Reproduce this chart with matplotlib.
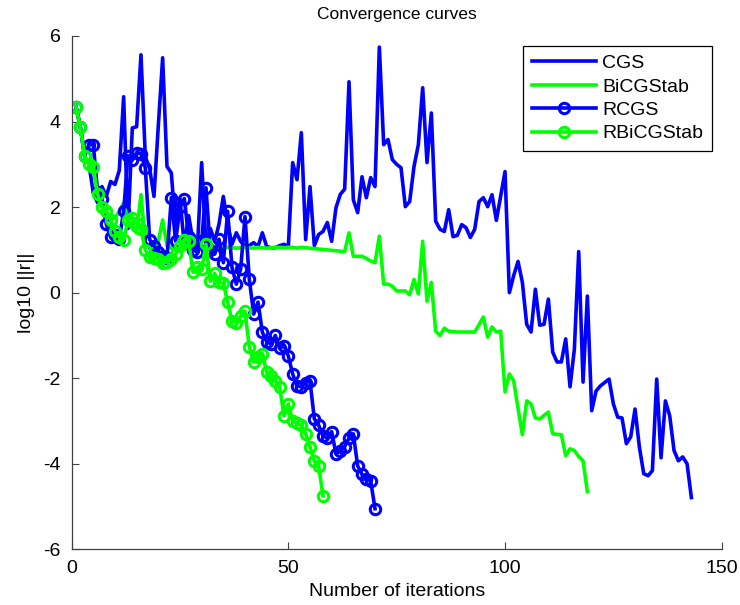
import numpy as np
import matplotlib
matplotlib.use("Agg")
import matplotlib.pyplot as plt

plt.rcParams['font.family'] = ['Liberation Sans', 'DejaVu Sans']
plt.rcParams['axes.unicode_minus'] = False

# log10 of residual norm per iteration
cgs = [4.35, 3.88, 3.18, 3.0, 2.33, 2.1, 2.48, 2.25, 2.6, 2.53,
       2.86, 4.58, 1.5, 3.85, 3.88, 5.56, 3.18, 2.9, 2.25, 3.9,
       5.49, 2.95, 2.8, 1.5, 2.2, 1.1, 1.8, 1.2, 1.0, 3.04,
       1.1, 1.5, 1.2, 1.6, 2.25, 1.6, 1.13, 1.4, 1.2, 1.08,
       1.1, 1.17, 1.08, 1.4, 1.08, 1.05, 1.05, 1.1, 1.13, 1.08,
       3.04, 2.64, 3.74, 1.24, 2.48, 1.1, 1.36, 1.43, 1.64, 1.2,
       1.99, 2.3, 2.42, 4.93, 2.17, 1.87, 2.71, 2.22, 2.69, 2.48,
       5.74, 3.46, 3.58, 3.11, 3.0, 2.92, 2.01, 2.13, 2.95, 3.46,
       4.79, 3.04, 4.2, 1.67, 1.48, 1.43, 1.94, 1.31, 1.34, 1.59,
       1.52, 1.29, 1.48, 2.13, 2.22, 2.01, 2.29, 1.69, 2.26, 2.83,
       0.0, 0.4, 0.73, 0.24, -0.74, -0.92, 0.08, -0.76, -0.74, -0.15,
       -1.39, -1.62, -1.62, -1.08, -2.2, -1.32, 0.96, -2.09, -0.08, -2.76,
       -2.3, -2.18, -2.1, -2.02, -2.6, -2.91, -2.93, -3.53, -3.37, -2.72,
       -3.61, -4.23, -4.28, -4.16, -2.02, -3.86, -2.53, -2.88, -3.69, -3.93,
       -3.84, -4.0, -4.79]

bicgstab = [4.35, 3.88, 3.18, 3.0, 2.9, 2.3, 2.0, 1.9, 1.7, 1.75,
            1.9, 2.1, 1.7, 1.5, 1.4, 2.29, 1.17, 1.05, 1.0, 1.2,
            1.7, 1.1, 1.04, 1.03, 1.05, 1.04, 1.02, 1.04, 1.05, 1.03,
            1.04, 1.05, 1.04, 1.03, 1.04, 1.06, 1.05, 1.04, 1.05, 1.06,
            1.05, 1.04, 1.06, 1.05, 1.04, 1.05, 1.06, 1.06, 1.05, 1.06,
            1.06, 1.04, 1.06, 1.05, 1.04, 1.03, 1.02, 1.01, 1.0, 0.99,
            0.98, 0.97, 0.96, 1.4, 0.85, 0.85, 0.85, 0.8, 0.74, 0.7,
            1.32, 0.2, 0.2, 0.15, 0.04, 0.04, 0.04, -0.05, 0.31, -0.03,
            1.2, -0.2, 0.24, -0.9, -1.0, -0.83, -0.9, -0.91, -0.92, -0.92,
            -0.92, -0.92, -0.92, -0.75, -0.57, -1.04, -0.8, -0.92, -0.9, -2.32,
            -1.9, -2.06, -2.7, -3.32, -2.53, -2.6, -2.93, -2.95, -2.87, -2.79,
            -3.3, -3.31, -3.32, -3.81, -3.65, -3.69, -3.83, -3.93, -4.65]

rcgs = [4.35, 3.88, 3.2, 3.46, 3.46, 2.35, 2.2, 1.6, 1.3, 1.35,
        1.25, 1.9, 3.2, 3.1, 3.27, 3.25, 2.92, 1.24, 1.1, 0.95,
        0.85, 0.8, 2.22, 1.2, 2.0, 2.2, 1.3, 1.0, 0.95, 1.2,
        2.45, 1.0, 0.9, 1.25, 0.7, 1.9, 0.59, 0.2, 0.55, 1.78,
        0.31, -0.5, -0.22, -0.92, -1.15, -1.2, -1.0, -1.3, -1.24, -1.48,
        -1.9, -2.18, -2.2, -2.1, -2.06, -2.95, -3.1, -3.35, -3.4, -3.25,
        -3.77, -3.7, -3.6, -3.4, -3.3, -4.05, -4.25, -4.35, -4.4, -5.05]

rbicgstab = [4.35, 3.88, 3.2, 3.0, 2.94, 2.3, 2.0, 1.9, 1.7, 1.43,
             1.3, 1.24, 1.7, 1.75, 1.63, 1.48, 1.0, 0.83, 0.8, 0.78,
             0.7, 0.72, 0.78, 0.9, 1.1, 1.24, 1.2, 0.48, 0.6, 0.55,
             1.13, 0.27, 0.45, 0.24, 0.22, -0.22, -0.66, -0.7, -0.55, -0.43,
             -1.27, -1.62, -1.5, -1.43, -1.85, -1.95, -2.06, -2.2, -2.88, -2.6,
             -3.0, -3.05, -3.1, -3.3, -3.6, -3.93, -4.05, -4.75]

blue = (0, 0, 1)
green = (0, 1, 0)

fig = plt.figure(figsize=(7.4, 6.05), dpi=100)
ax = fig.add_axes([0.0968, 0.092, 0.8785, 0.8485])

lw = 2.6
ax.plot(np.arange(1, len(cgs) + 1), cgs, color=blue, lw=lw, label='CGS')
ax.plot(np.arange(1, len(bicgstab) + 1), bicgstab, color=green, lw=lw, label='BiCGStab')
ax.plot(np.arange(1, len(rcgs) + 1), rcgs, color=blue, lw=lw, marker='o', ms=7.5,
        mfc='none', mew=2.2, label='RCGS')
ax.plot(np.arange(1, len(rbicgstab) + 1), rbicgstab, color=green, lw=lw, marker='o', ms=7.5,
        mfc='none', mew=2.2, label='RBiCGStab')

ax.set_xlim(0, 150)
ax.set_ylim(-6, 6)
ax.set_xticks([0, 50, 100, 150])
ax.set_yticks([-6, -4, -2, 0, 2, 4, 6])
ax.tick_params(direction='in', length=5, labelsize=14, color='#404040', pad=8)
for s in ['top', 'right']:
    ax.spines[s].set_visible(False)
for s in ['left', 'bottom']:
    ax.spines[s].set_color('#404040')
    ax.spines[s].set_linewidth(0.9)

ax.set_title('Convergence curves', fontsize=12.5, pad=12)
ax.set_xlabel('Number of iterations', fontsize=14, labelpad=4)
ax.set_ylabel('log10 ||r||', fontsize=14, labelpad=6)

leg = ax.legend(loc='upper right', fontsize=14, handlelength=3.3, numpoints=1,
                labelspacing=0.3, borderpad=0.45, borderaxespad=0.5,
                handletextpad=0.3, fancybox=False, framealpha=1)
leg.get_frame().set_edgecolor('black')
leg.get_frame().set_linewidth(0.9)

fig.savefig('out.png', dpi=100)
